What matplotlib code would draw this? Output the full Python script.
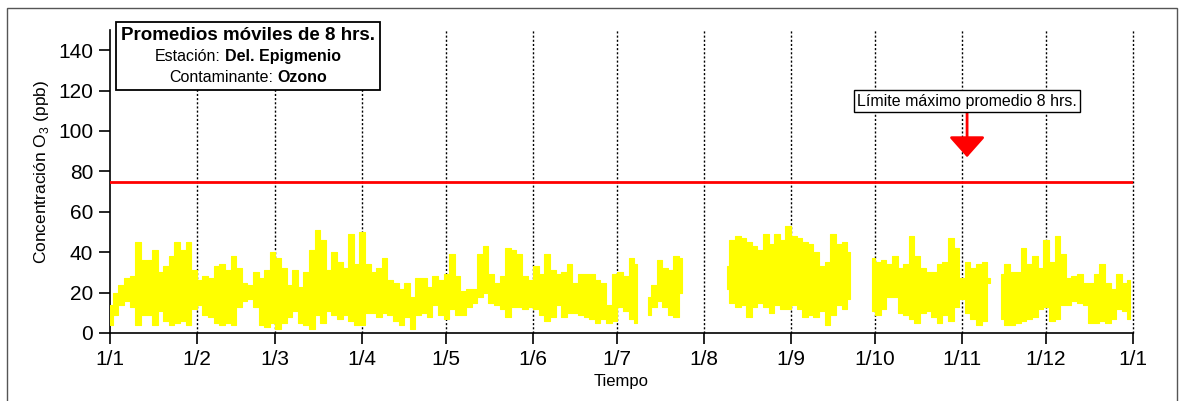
import numpy as np
import matplotlib
matplotlib.use("Agg")
import matplotlib.pyplot as plt
from matplotlib.patches import Rectangle
from matplotlib.offsetbox import TextArea, HPacker, VPacker, AnchoredOffsetbox

plt.rcParams['font.family'] = ['Liberation Sans', 'DejaVu Sans']
plt.rcParams['mathtext.fontset'] = 'custom'
plt.rcParams['mathtext.rm'] = 'Liberation Sans'

# ----------------------------------------------------------------------------
# datos: rango (min / max) de los promedios móviles de 8 h, cada 2 días
# ----------------------------------------------------------------------------
nan = np.nan
dias = np.arange(0, 366, 2)   # día del año (2019)

o3_min = [
    # ene
    4, 9, 14, 16, 13, 4, 9, 9, 4, 11, 6, 4, 5, 6, 4, 12,
    # feb
    14, 9, 8, 5, 4, 5, 4, 13, 16, 17, 13, 4, 3, 5,
    # mar
    2, 5, 8, 11, 5, 4, 2, 9, 5, 11, 9, 7, 9, 6, 4,
    # abr
    4, 10, 10, 8, 10, 9, 6, 4, 8, 2, 9, 10, 8, 14, 9,
    # may
    7, 12, 9, 9, 13, 15, 18, 20, 15, 14, 12, 8, 13, 13, 12, 13,
    # jun
    12, 9, 6, 8, 14, 8, 10, 10, 9, 8, 7, 5, 7, 5, 6,
    # jul
    13, 11, 7, 5, nan, 9, 13, 16, 13, 9, 8, 20, nan, nan, nan, nan,
    # ago
    nan, nan, nan, 22, 15, 13, 14, 8, 13, 15, 13, 10, 14, 12,
    # sep
    12, 14, 12, 8, 9, 8, 11, 4, 9, 14, 12, 17, nan, nan, nan,
    # oct
    11, 9, 12, 18, 18, 10, 9, 7, 5, 10, 11, 8, 5, 9, 6, 13,
    # nov
    17, 10, 7, 4, 6, 25, nan, 7, 4, 4, 5, 6, 7, 8, 12,
    # dic
    13, 6, 7, 14, 14, 16, 15, 14, 5, 5, 6, 5, 7, 12, 11, 7,
]

o3_max = [
    # ene
    14, 20, 24, 27, 28, 45, 36, 36, 41, 30, 33, 38, 45, 41, 45, 31,
    # feb
    26, 28, 27, 33, 34, 31, 38, 32, 25, 24, 30, 27, 31, 40,
    # mar
    37, 32, 24, 31, 23, 30, 41, 51, 46, 31, 40, 35, 32, 49, 34,
    # abr
    50, 34, 30, 32, 37, 26, 25, 22, 25, 18, 27, 27, 23, 28, 26,
    # may
    29, 39, 28, 21, 22, 22, 39, 43, 29, 25, 28, 42, 41, 39, 28, 26,
    # jun
    33, 29, 39, 31, 29, 30, 34, 25, 29, 29, 29, 26, 25, 14, 29,
    # jul
    30, 28, 37, 34, nan, 18, 24, 36, 32, 31, 38, 37, nan, nan, nan, nan,
    # ago
    nan, nan, nan, 33, 46, 48, 47, 45, 43, 41, 49, 44, 49, 46,
    # sep
    53, 48, 47, 45, 44, 40, 33, 35, 49, 44, 45, 40, nan, nan, nan,
    # oct
    37, 35, 36, 34, 38, 32, 34, 48, 38, 32, 30, 30, 34, 35, 47, 42,
    # nov
    27, 35, 32, 34, 35, 27, nan, 29, 34, 30, 30, 42, 34, 38, 32,
    # dic
    46, 35, 48, 39, 27, 28, 29, 25, 25, 29, 34, 25, 22, 29, 25, 26,
]

limite_8h = 75          # ppb
inicio_mes = [0, 31, 59, 90, 120, 151, 181, 212, 243, 273, 304, 334, 365]
etiquetas_mes = ['1/1', '1/2', '1/3', '1/4', '1/5', '1/6', '1/7',
                 '1/8', '1/9', '1/10', '1/11', '1/12', '1/1']
y_ticks = [0, 20, 40, 60, 80, 100, 120, 140]

o3_min = np.array(o3_min, dtype=float)
o3_max = np.array(o3_max, dtype=float)
assert len(o3_min) == len(dias) == len(o3_max)

# ----------------------------------------------------------------------------
# figura
# ----------------------------------------------------------------------------
fig = plt.figure(figsize=(11.8, 4.01), dpi=100)
ax = fig.add_axes([110 / 1180, 68 / 401, 1023 / 1180, 303 / 401])

amarillo = '#FFFF00'
ax.fill_between(dias, o3_min, o3_max, step='mid', color=amarillo,
                linewidth=0.8, edgecolor=amarillo, zorder=3)

ax.axhline(limite_8h, color='#FF0000', lw=2, zorder=4)

ax.set_xlim(0, 365)
ax.set_ylim(0, 150)
ax.set_xticks(inicio_mes)
ax.set_xticklabels(etiquetas_mes)
ax.set_yticks(y_ticks)
ax.tick_params(axis='both', direction='out', length=8, width=1.2,
               labelsize=15, color='black', pad=4)

for m in inicio_mes[1:]:
    ax.axvline(m, color='black', lw=1, ls=(0, (1.5, 1.5)), zorder=2,
               clip_on=False)

for s in ['top', 'right']:
    ax.spines[s].set_visible(False)
for s in ['left', 'bottom']:
    ax.spines[s].set_linewidth(1.2)

ax.set_xlabel('Tiempo', fontsize=12, labelpad=4)
ax.set_ylabel('Concentración O$_3$ (ppb)', fontsize=12.5)
ax.yaxis.set_label_coords(-0.058, 0.53)

# etiqueta del límite con flecha
ax.annotate('Límite máximo promedio 8 hrs.', xy=(305.8, 87), xytext=(305.8, 114.8),
            ha='center', va='center', fontsize=11.5,
            bbox=dict(boxstyle='square,pad=0.2', fc='white', ec='black', lw=1),
            arrowprops=dict(arrowstyle='-|>,head_width=0.8,head_length=0.9',
                            color='#FF0000', lw=2, mutation_scale=14,
                            shrinkA=0, shrinkB=0),
            zorder=6)

# cuadro de título
def linea(partes, size):
    hijos = [TextArea(t, textprops=dict(fontsize=size, fontweight=w))
             for t, w in partes]
    return HPacker(children=hijos, align='baseline', pad=0, sep=3)

caja = VPacker(children=[
    linea([('Promedios móviles de 8 hrs.', 'bold')], 13.5),
    linea([('Estación:', 'normal'), ('Del. Epigmenio', 'bold')], 11.5),
    linea([('Contaminante:', 'normal'), ('Ozono', 'bold')], 11.5),
], align='center', pad=0, sep=4)

anc = AnchoredOffsetbox(loc='upper left', child=caja, pad=0.35, borderpad=0,
                        frameon=True, bbox_to_anchor=(116 / 1180, 1 - 22 / 401),
                        bbox_transform=fig.transFigure)
anc.patch.set_boxstyle('square,pad=0')
anc.patch.set_edgecolor('black')
anc.patch.set_linewidth(1.3)
anc.set_zorder(7)
ax.add_artist(anc)

# marco exterior
fig.patches.append(Rectangle((7 / 1180, -0.02), 1170 / 1180, 1.02 - 8 / 401,
                             transform=fig.transFigure, fill=False,
                             ec='#555555', lw=1))

plt.savefig('out.png', dpi=100)
